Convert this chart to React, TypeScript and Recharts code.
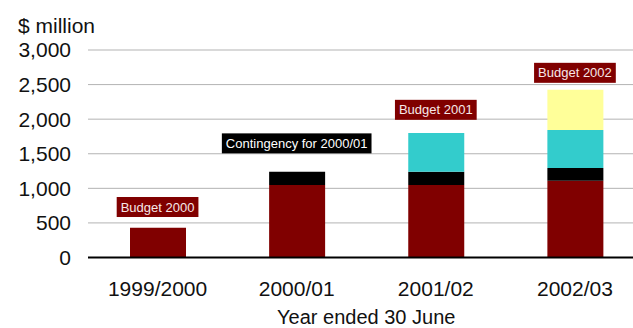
import { Bar, CartesianGrid, ComposedChart, Label, Line, XAxis, YAxis } from "recharts";

const FONT = "'Liberation Sans', Arial, sans-serif";

const years = ["1999/2000", "2000/01", "2001/02", "2002/03"];
const budgetBase = [430, 1050, 1050, 1110];
const contingency = [0, 190, 190, 185];
const budget2001 = [0, 0, 560, 550];
const budget2002 = [0, 0, 0, 580];
const yTicks = [0, 500, 1000, 1500, 2000, 2500, 3000];

// annotation boxes, value = where the box sits on the $m scale
const noteText = ["Budget 2000", "Contingency for 2000/01", "Budget 2001", "Budget 2002"];
const noteAt = [730, 1650, 2135, 2670];

const RED = "#800000";
const NOTE_FILL = [RED, "#000000", RED, RED];
const NOTE_INK = ["#f6e8e8", "#ffffff", "#f6e8e8", "#f6e8e8"];

const rows = years.map((year, i) => ({
  year,
  base: budgetBase[i],
  cont: contingency[i],
  b2001: budget2001[i],
  b2002: budget2002[i],
  note: noteAt[i]
}));

let ctx: CanvasRenderingContext2D | null = null;
function textWidth(s: string) {
  if (!ctx) ctx = document.createElement("canvas").getContext("2d");
  if (!ctx) return s.length * 6.5;
  ctx.font = `13px ${FONT}`;
  return ctx.measureText(s).width;
}

function NoteBox(props: any) {
  const { cx, cy, index } = props;
  const label = noteText[index];
  if (cx == null || cy == null || !label) return null;
  const w = textWidth(label) + 8;
  return (
    <g key={`note-${index}`}>
      <rect x={cx - w / 2} y={cy - 10} width={w} height={20} fill={NOTE_FILL[index]} />
      <text x={cx} y={cy + 4.5} textAnchor="middle" fontSize={13} fontFamily={FONT} fill={NOTE_INK[index]}>
        {label}
      </text>
    </g>
  );
}

const fmt = (v: number) => v.toLocaleString("en-US");

export default function App() {
  return (
    <div style={{ position: "absolute", left: 0, top: 0, width: 633, height: 328, overflow: "hidden", background: "#fff" }}>
      <div style={{ position: "absolute", left: 18, top: 15, fontFamily: FONT, fontSize: 21, lineHeight: 1, color: "#111" }}>
        $ million
      </div>
      <ComposedChart
        width={648}
        height={328}
        data={rows}
        margin={{ top: 50, right: 3.5, bottom: 0, left: 0 }}
        barSize={56}
      >
        <CartesianGrid vertical={false} stroke="#b3b3b3" strokeWidth={1} />
        <XAxis
          dataKey="year"
          height={70.5}
          tickLine={false}
          tickSize={0}
          tickMargin={24}
          axisLine={{ stroke: "#000", strokeWidth: 2 }}
          tick={{ fontSize: 21, fontFamily: FONT, fill: "#111" }}
        >
          <Label
            value="Year ended 30 June"
            position="insideBottom"
            offset={4}
            style={{ fontSize: 20, fontFamily: FONT, fill: "#111" }}
          />
        </XAxis>
        <YAxis
          width={88}
          domain={[0, 3000]}
          ticks={yTicks}
          tickFormatter={fmt}
          axisLine={false}
          tickLine={false}
          tickSize={0}
          tickMargin={17}
          tick={{ fontSize: 21, fontFamily: FONT, fill: "#111" }}
        />
        <Bar dataKey="base" stackId="s" fill={RED} isAnimationActive={false} />
        <Bar dataKey="cont" stackId="s" fill="#000000" isAnimationActive={false} />
        <Bar dataKey="b2001" stackId="s" fill="#33cccc" isAnimationActive={false} />
        <Bar dataKey="b2002" stackId="s" fill="#ffff99" isAnimationActive={false} />
        <Line dataKey="note" stroke="none" dot={NoteBox} activeDot={false} isAnimationActive={false} />
      </ComposedChart>
    </div>
  );
}
